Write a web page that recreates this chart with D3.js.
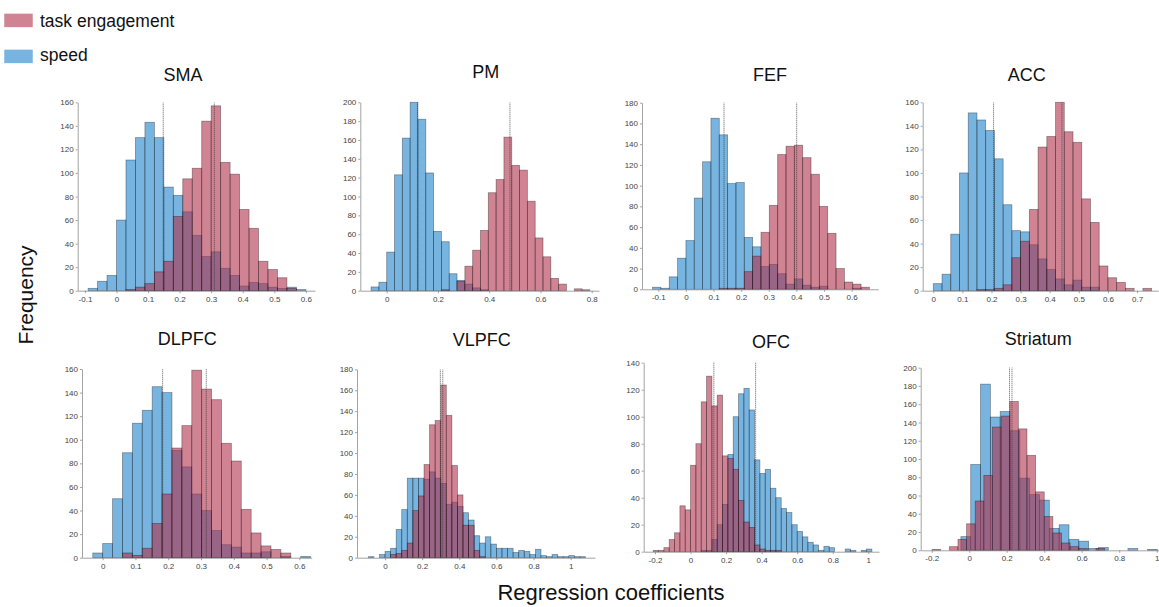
<!DOCTYPE html>
<html>
<head>
<meta charset="utf-8">
<script src="https://cdn.jsdelivr.net/npm/d3@7"></script>
<style>
    body { margin: 0; background: #fff; }
    text { font-family: "Liberation Sans", Arial, Helvetica, sans-serif; }
    .axis path, .axis line { stroke: #8c8c8c; stroke-width: 0.8; }
    .axis text { fill: #444; font-size: 8px; }
    .title { font-size: 18px; fill: #111; }
    .bar { stroke: #000; stroke-opacity: 0.38; stroke-width: 0.8; }
    .speed { fill: #1e82cb; fill-opacity: 0.6; }
    .task { fill: #af304b; fill-opacity: 0.6; }
    .mean { stroke: #333; stroke-width: 0.8; stroke-dasharray: 1,1; }
</style>
</head>
<body>
<svg id="chart" width="1159" height="607"></svg>
<script>
// brain regions, one histogram panel each
var regions = ["SMA", "PM", "FEF", "ACC", "DLPFC", "VLPFC", "OFC", "Striatum"];

// speed: left edge of first bin, bin width, counts per bin
var speedStart = [-0.09, -0.061, -0.1208, 0, -0.0302, -0.09, 0.06, -0.0444];
var speedWidth = [0.03, 0.0305, 0.0302, 0.03, 0.0302, 0.03, 0.03, 0.0524];
var speedCounts = [
    [2, 8, 13, 60, 111, 130, 143, 130, 88, 81, 67, 47, 29, 33, 19, 13, 4, 7, 6, 3, 2, 3, 1],
    [4, 9, 41, 123, 162, 200, 182, 125, 63, 52, 18, 11, 7, 3, 1],
    [2, 1, 12, 30, 47, 88, 123, 165, 149, 102, 103, 50, 41, 22, 24, 15, 5, 10, 4, 2, 3, 0, 0, 0, 1],
    [6, 14, 48, 100, 151, 145, 136, 112, 73, 51, 50, 39, 27, 18, 10, 5, 9, 3, 3],
    [4, 12, 50, 89, 114, 125, 145, 140, 91, 77, 54, 40, 23, 11, 9, 4, 4, 5, 0, 1, 0, 1],
    [1, 0, 3, 6, 9, 27, 46, 76, 76, 76, 75, 82, 76, 71, 51, 53, 49, 43, 36, 21, 14, 20, 13, 9, 9, 9, 5, 7, 6, 3, 8, 2, 1, 3, 1, 1, 2, 1, 1],
    [1, 1, 9, 20, 35, 72, 100, 117, 121, 105, 68, 58, 61, 47, 40, 32, 29, 20, 15, 11, 7, 5, 1, 4, 3, 0, 0, 2, 1, 0, 1, 2],
    [15, 94, 182, 146, 152, 131, 79, 61, 55, 24, 28, 12, 10, 2, 3, 0, 0, 2, 0, 1]
];

// task engagement
var taskStart = [0.03, 0.2135, 0.1208, 0.15, 0.0604, 0.03, -0.21, -0.198];
var taskWidth = [0.03, 0.0305, 0.0302, 0.03, 0.0302, 0.03, 0.03, 0.046];
var taskCounts = [
    [1, 3, 6, 16, 25, 63, 95, 104, 144, 157, 109, 99, 69, 53, 25, 18, 11, 2],
    [1, 0, 10, 26, 43, 64, 104, 118, 163, 133, 128, 95, 56, 36, 13, 7, 0, 2, 1],
    [1, 1, 1, 17, 32, 55, 81, 130, 138, 139, 127, 111, 80, 54, 20, 7, 5, 2],
    [1, 1, 2, 5, 28, 42, 69, 122, 131, 160, 135, 126, 78, 58, 21, 11, 7, 2, 0, 2],
    [4, 2, 8, 29, 54, 93, 112, 159, 143, 134, 97, 82, 41, 21, 10, 7, 4],
    [3, 4, 7, 14, 45, 59, 89, 127, 131, 165, 136, 88, 60, 31, 31, 7, 1],
    [1, 1, 3, 9, 14, 34, 31, 64, 80, 111, 130, 108, 116, 71, 69, 61, 38, 22, 18, 5, 2, 1, 1, 1],
    [1, 0, 4, 12, 29, 54, 82, 135, 147, 163, 133, 104, 64, 37, 19, 8, 4, 2, 0, 2]
];

// dotted lines (means)
var speedMean = [0.148, 0.12, 0.138, 0.207, 0.183, 0.298, 0.366, 0.215];
var taskMean = [0.31, 0.481, 0.401, 0.442, 0.316, 0.311, 0.131, 0.228];

// axis ticks
var yMax = [160, 200, 180, 160, 160, 180, 140, 200];
var xTicks = [
    [-0.1, 0, 0.1, 0.2, 0.3, 0.4, 0.5, 0.6],
    [0, 0.2, 0.4, 0.6, 0.8],
    [-0.1, 0, 0.1, 0.2, 0.3, 0.4, 0.5, 0.6],
    [0, 0.1, 0.2, 0.3, 0.4, 0.5, 0.6, 0.7],
    [0, 0.1, 0.2, 0.3, 0.4, 0.5, 0.6],
    [0, 0.2, 0.4, 0.6, 0.8, 1],
    [-0.2, 0, 0.2, 0.4, 0.6, 0.8, 1],
    [-0.2, 0, 0.2, 0.4, 0.6, 0.8, 1]
];

// panel placement in the figure
var layout = [
    {left: 77.7, right: 315, bottom: 290.7, top: 102.3, xd: [-0.123, 0.629], tx: 183, ty: 80.5},
    {left: 360.3, right: 599, bottom: 290.7, top: 102.3, xd: [-0.103, 0.8285], tx: 485.7, ty: 78},
    {left: 642, right: 878.3, bottom: 289.3, top: 102.7, xd: [-0.159, 0.6966], tx: 770, ty: 80.5},
    {left: 922.7, right: 1158.3, bottom: 290.7, top: 102.3, xd: [-0.0364, 0.773], tx: 1026.7, ty: 80.5},
    {left: 82, right: 311.7, bottom: 557.7, top: 369, xd: [-0.063, 0.6376], tx: 187.3, ty: 345},
    {left: 357, right: 595, bottom: 557.7, top: 369.3, xd: [-0.151, 1.131], tx: 481.7, ty: 345.7},
    {left: 643.7, right: 879, bottom: 551.7, top: 362.7, xd: [-0.2636, 1.06], tx: 771, ty: 347.7},
    {left: 920.7, right: 1165, bottom: 550.3, top: 367.7, xd: [-0.2587, 1.044], tx: 1038.3, ty: 345}
];

var svg = d3.select("#chart");

function fmt(v) {
    return v === 0 ? "0" : String(+v.toFixed(2));
}

function drawBars(g, x, y, start, width, counts, cls) {
    var bins = counts.map(function(c, i) {
        return {x0: start + i * width, x1: start + (i + 1) * width, n: c};
    }).filter(function(d) { return d.n > 0; });

    g.selectAll("rect." + cls)
        .data(bins)
        .enter().append("rect")
        .attr("class", "bar " + cls)
        .attr("x", function(d) { return x(d.x0); })
        .attr("width", function(d) { return x(d.x1) - x(d.x0); })
        .attr("y", function(d) { return y(d.n); })
        .attr("height", function(d) { return y(0) - y(d.n); });
}

regions.forEach(function(name, k) {
    var L = layout[k];
    var x = d3.scaleLinear().domain(L.xd).range([L.left, L.right]);
    var y = d3.scaleLinear().domain([0, yMax[k]]).range([L.bottom, L.top]);
    var g = svg.append("g");

    drawBars(g, x, y, speedStart[k], speedWidth[k], speedCounts[k], "speed");
    drawBars(g, x, y, taskStart[k], taskWidth[k], taskCounts[k], "task");

    g.selectAll("line.mean")
        .data([speedMean[k], taskMean[k]])
        .enter().append("line")
        .attr("class", "mean")
        .attr("x1", function(d) { return x(d); })
        .attr("x2", function(d) { return x(d); })
        .attr("y1", y(0))
        .attr("y2", y(yMax[k]));

    g.append("g")
        .attr("class", "axis")
        .attr("transform", "translate(0," + L.bottom + ")")
        .call(d3.axisBottom(x)
            .tickValues(xTicks[k])
            .tickFormat(fmt)
            .tickSize(2.5)
            .tickSizeOuter(0)
            .tickPadding(3));

    g.append("g")
        .attr("class", "axis")
        .attr("transform", "translate(" + L.left + ",0)")
        .call(d3.axisLeft(y)
            .tickValues(d3.range(0, yMax[k] + 1, 20))
            .tickSize(2)
            .tickSizeOuter(0)
            .tickPadding(2));

    svg.selectAll(".axis text").style("font-family", "'Liberation Sans', Arial, sans-serif");

    g.append("text")
        .attr("class", "title")
        .attr("x", L.tx)
        .attr("y", L.ty)
        .attr("text-anchor", "middle")
        .text(name);
});

// legend
var legendItems = [
    {label: "task engagement", cls: "task", y: 13.3, ty: 26.5},
    {label: "speed", cls: "speed", y: 49.3, ty: 61}
];
var lg = svg.append("g");
lg.selectAll("rect")
    .data(legendItems)
    .enter().append("rect")
    .attr("class", function(d) { return d.cls; })
    .attr("x", 4)
    .attr("y", function(d) { return d.y; })
    .attr("width", 29)
    .attr("height", 14)
    .style("stroke", "#fff")
    .style("stroke-width", 0.5);
lg.selectAll("text")
    .data(legendItems)
    .enter().append("text")
    .attr("x", 40)
    .attr("y", function(d) { return d.ty; })
    .style("font-size", "17.5px")
    .style("fill", "#111")
    .text(function(d) { return d.label; });

// axis titles
svg.append("text")
    .attr("transform", "translate(33,295) rotate(-90)")
    .attr("text-anchor", "middle")
    .style("font-size", "21px")
    .style("fill", "#111")
    .text("Frequency");

svg.append("text")
    .attr("x", 611)
    .attr("y", 600)
    .attr("text-anchor", "middle")
    .style("font-size", "22px")
    .style("fill", "#111")
    .text("Regression coefficients");
</script>
</body>
</html>
